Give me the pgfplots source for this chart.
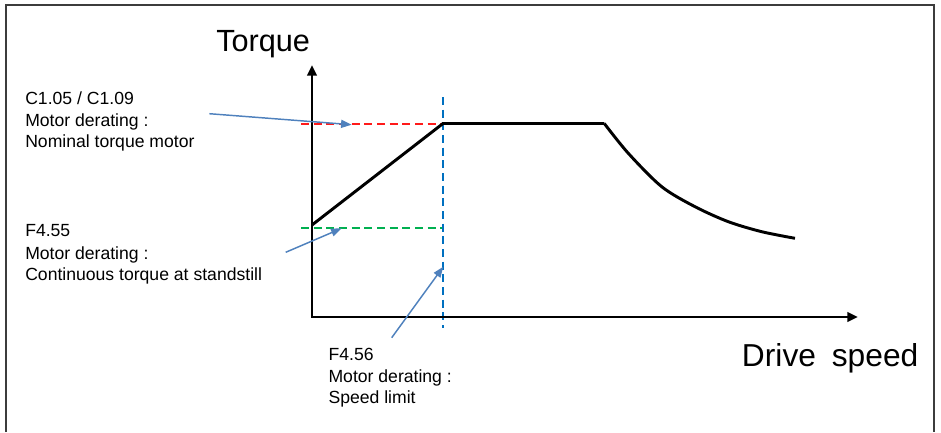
\documentclass[border=0pt]{standalone}
\usepackage{pgfplots}
\pgfplotsset{compat=1.18}
\usepackage{fontspec}
\setmainfont{Liberation Sans}
\usetikzlibrary{arrows.meta}

% colours
\definecolor{nomred}{HTML}{FF1A1A}
\definecolor{stdgreen}{HTML}{00B050}
\definecolor{limblue}{HTML}{0070C0}
\definecolor{arrblue}{HTML}{4F81BD}
\definecolor{framegray}{HTML}{3C3C3C}

\begin{document}
\begin{tikzpicture}
% one unit = one pixel of the reference, origin at the corner of the axes
\begin{axis}[
    width=705.75pt, height=324pt, scale only axis,
    xmin=-312, xmax=629,
    ymin=-115, ymax=317,
    hide axis, clip=false,
]
\path (axis cs:-312,-115) rectangle (axis cs:629,317);

% frame
\draw[framegray, line width=1.3pt]
    (axis cs:-306,-115) -- (axis cs:-306,312) -- (axis cs:622,312) -- (axis cs:622,-115);

% derating limits
\addplot[nomred, line width=1.5pt, dash pattern=on 6pt off 3.5pt] coordinates {(-11,193.5) (131,193.5)};
\addplot[stdgreen, line width=1.5pt, dash pattern=on 6pt off 3.5pt] coordinates {(-11,88.7) (131,88.7)};
\addplot[limblue, line width=1.5pt, dash pattern=on 6pt off 3.5pt] coordinates {(131,220) (131,-11)};

% axes
\draw[black, line width=2.2pt, line join=miter,
      {Triangle[length=8pt,width=7pt]}-{Triangle[length=8pt,width=7pt]}]
    (axis cs:0,252) -- (axis cs:0,0) -- (axis cs:546,0);

% torque / speed curve
\addplot[black, line width=2.2pt, line join=miter] coordinates {
    (0,92) (131,193.5) (292.3,193.5)
};
\addplot[black, line width=2.2pt, smooth, tension=0.5] coordinates {
    (292.3,193.5) (316.3,163.7) (349.7,130.3) (383,110.3) (416.3,95.3) (449.7,85.3) (483,78.7)
};

% pointers
\draw[arrblue, line width=1.1pt, -{Triangle[length=8pt,width=6pt]}]
    (axis cs:-102.7,203.3) -- (axis cs:39.7,192.3);
\draw[arrblue, line width=1.1pt, -{Triangle[length=8pt,width=6pt]}]
    (axis cs:-26.3,64.7) -- (axis cs:29.7,88.7);
\draw[arrblue, line width=1.1pt, -{Triangle[length=8pt,width=6pt]}]
    (axis cs:79.7,-20.7) -- (axis cs:131.3,50.3);

% axis titles
\node[anchor=base west, inner sep=0pt, font=\fontsize{23pt}{27pt}\selectfont]
    at (axis cs:-96,266) {Torque};
\node[anchor=base west, inner sep=0pt, font=\fontsize{23.8pt}{28pt}\selectfont]
    at (axis cs:429.7,-49.7) {Drive\hspace{0.5em}speed};

% annotations
\tikzset{lbl/.style={anchor=base west, inner sep=0pt, font=\fontsize{13.2pt}{16pt}\selectfont}}
\node[lbl] at (axis cs:-287,212.7) {C1.05 / C1.09};
\node[lbl] at (axis cs:-287,191) {Motor derating :};
\node[lbl] at (axis cs:-287,169.3) {Nominal torque motor};

\node[lbl] at (axis cs:-287,80.3) {F4.55};
\node[lbl] at (axis cs:-287,58) {Motor derating :};
\node[lbl] at (axis cs:-287,36.3) {Continuous torque at standstill};

\node[lbl] at (axis cs:16.3,-43.7) {F4.56};
\node[lbl] at (axis cs:16.3,-65.7) {Motor derating :};
\node[lbl] at (axis cs:16.3,-86.3) {Speed limit};
\end{axis}
\end{tikzpicture}
\end{document}
